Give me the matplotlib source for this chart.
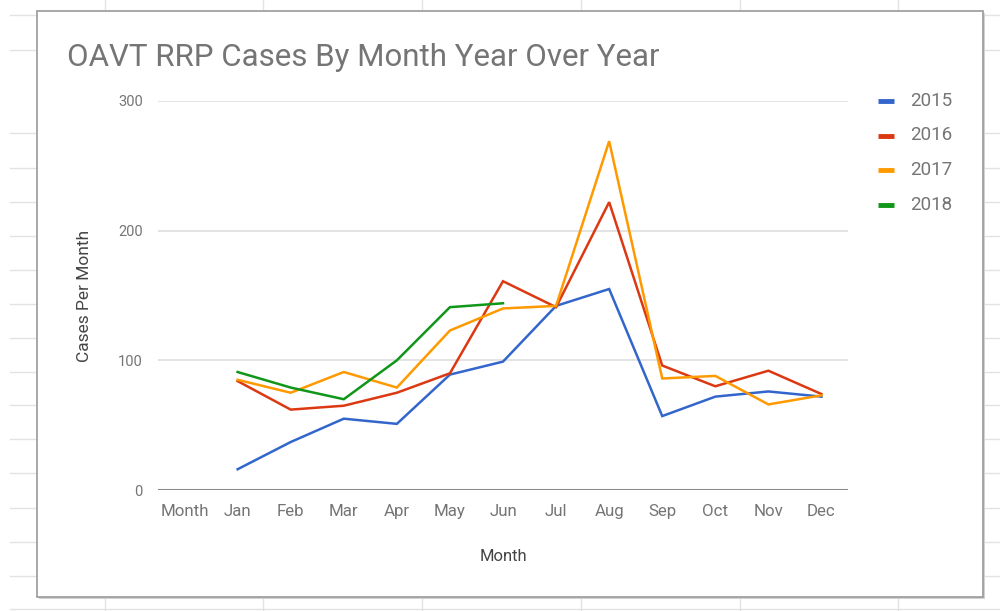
#!/usr/bin/env python3
"""
OAVT RRP cases by month, year over year (Google Sheets style line chart).
"""

import numpy as np
import matplotlib
matplotlib.use('Agg')
import matplotlib.pyplot as plt
from matplotlib.patches import Rectangle
from matplotlib.lines import Line2D

plt.rcParams['font.family'] = ['Roboto', 'DejaVu Sans']

# categories (the sheet's header row "Month" ends up as the first category)
categories = ['Month', 'Jan', 'Feb', 'Mar', 'Apr', 'May', 'Jun',
              'Jul', 'Aug', 'Sep', 'Oct', 'Nov', 'Dec']
years = ['2015', '2016', '2017', '2018']

cases_2015 = [16, 37, 55, 51, 89, 99, 142, 155, 57, 72, 76, 72]
cases_2016 = [84, 62, 65, 75, 90, 161, 141, 222, 96, 80, 92, 74]
cases_2017 = [85, 75, 91, 79, 123, 140, 142, 269, 86, 88, 66, 73]
cases_2018 = [91, 79, 70, 100, 141, 144]

series = [cases_2015, cases_2016, cases_2017, cases_2018]
colors = ['#3366cc', '#dc3912', '#ff9900', '#109618']

W, H = 1000, 611
fig = plt.figure(figsize=(W / 100, H / 100), dpi=100)
fig.patch.set_facecolor('white')


def px(x, y):
    """pixel (top-left origin) -> figure fraction"""
    return x / W, 1 - y / H


# spreadsheet grid behind the chart card
grid_col = '#e2e2e2'
for gy in [15, 50, 133, 168, 202, 236, 270, 304, 338, 372, 405, 439, 473, 508, 542, 576, 609]:
    fig.add_artist(Line2D([0.01, 1], [1 - gy / H] * 2, color=grid_col, lw=1, zorder=0))
for gx in [105, 263, 422, 581, 740, 898]:
    fig.add_artist(Line2D([gx / W] * 2, [0, 1], color=grid_col, lw=1, zorder=0))

# chart card with a soft shadow
x0, y0 = px(37, 597)
cw, ch = (983 - 37) / W, (597 - 11) / H
fig.add_artist(Rectangle((x0 + 0.002, y0 - 0.003), cw, ch, facecolor='#d2d2d2',
                         edgecolor='none', zorder=1))
fig.add_artist(Rectangle((x0, y0), cw, ch, facecolor='white',
                         edgecolor='#9a9a9a', lw=1.2, zorder=2))

# plot area
left, bottom = px(158, 490)
ax = fig.add_axes([left, bottom, (848 - 158) / W, (490 - 101) / H], zorder=3)
ax.set_facecolor('none')

x_idx = np.arange(len(categories))
for name, vals, col in zip(years, series, colors):
    xs = x_idx[1:1 + len(vals)]
    ax.plot(xs, vals, color=col, lw=1.8, label=name, solid_joinstyle='miter', zorder=4)

ax.set_xlim(-0.5, len(categories) - 0.5)
ax.set_ylim(0, 300)
ax.set_yticks([0, 100, 200, 300])
ax.set_xticks(x_idx)
ax.set_xticklabels(categories)
ax.grid(axis='y', color='#dedede', lw=1.2)
ax.set_axisbelow(True)
ax.axhline(0, color='#8a8a8a', lw=2.2, zorder=3)
for s in ax.spines.values():
    s.set_visible(False)
ax.tick_params(axis='both', length=0, colors='#757575')
ax.tick_params(axis='y', pad=11, labelsize=10.5)
ax.tick_params(axis='x', pad=10, labelsize=12.2)

ax.set_xlabel('Month', fontsize=12, color='#444444', labelpad=22)
ax.set_ylabel('Cases Per Month', fontsize=12.5, color='#444444', labelpad=19)

fig.text(67 / W, 1 - 57 / H, 'OAVT RRP Cases By Month Year Over Year',
         fontsize=22.5, color='#757575', va='center', ha='left', zorder=5)

# legend on the right
for i, (name, col) in enumerate(zip(years, colors)):
    ly = 101 + i * 34.5
    fig.add_artist(Line2D([878 / W, 894 / W], [1 - ly / H] * 2, color=col, lw=3.5,
                          solid_capstyle='butt', zorder=5))
    fig.text(910 / W, 1 - ly / H, name, fontsize=13.5, color='#757575',
             va='center', ha='left', zorder=5)

fig.savefig('out.png', dpi=100)
plt.close(fig)
